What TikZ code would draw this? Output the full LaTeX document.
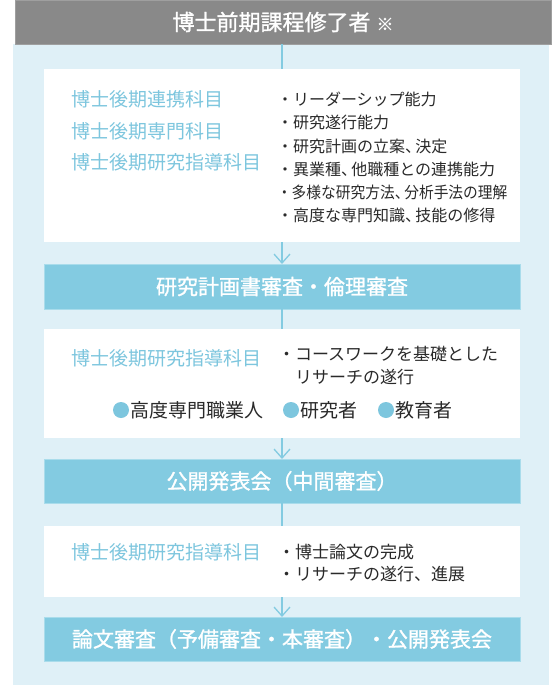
\documentclass[tikz,border=0pt]{standalone}
\usepackage{fontspec}
\setmainfont{Noto Sans CJK JP}
\newfontfamily\barfont[FakeBold=1.2]{Noto Sans CJK JP}
\usetikzlibrary{arrows.meta,positioning}
\definecolor{hdgray}{HTML}{898989}
\definecolor{bglight}{HTML}{DFF0F7}
\definecolor{barblue}{HTML}{83CBE1}
\definecolor{barline}{HTML}{A9DCEB}
\definecolor{lblblue}{HTML}{7DC6DE}
\definecolor{txtgray}{HTML}{2A2A2A}
\newcommand\tenn{、\kern-.35em}

\begin{document}
\begin{tikzpicture}[x=1pt,y=-1pt,>={Straight Barb[length=9pt,width=16pt]},
	every node/.style={inner sep=0pt,outer sep=0pt},
	header/.style={fill=hdgray,draw=gray!75,line width=.6pt,minimum width=536pt,minimum height=44pt,
		text=white,font=\barfont\fontsize{22}{22}\selectfont},
	panel/.style={fill=white,minimum width=476pt},
	stage/.style={fill=barblue,draw=barline,line width=.8pt,minimum width=476pt,minimum height=44pt,
		text=white,font=\barfont\fontsize{21}{21}\selectfont},
	subj/.style={anchor=west,text=lblblue,font=\fontsize{19}{19}\selectfont},
	item/.style={anchor=west,text=txtgray,font=\fontsize{16}{16}\selectfont},
	itemb/.style={anchor=west,text=txtgray,font=\fontsize{17}{17}\selectfont},
	role/.style={anchor=west,text=txtgray,font=\fontsize{19}{19}\selectfont},
	dot/.style={circle,fill=lblblue,minimum size=16pt},
	conn/.style={draw=barblue,line width=1.3pt}
	]

	\useasboundingbox (0,0) rectangle (557,696);
	\fill[bglight] (13,44) rectangle (549,685);

	\node[header] (hd) at (283,22) {博士前期課程修了者\hspace{6pt}{\fontsize{17}{17}\selectfont ※}};

	\node[panel,minimum height=173pt] (p1) at (282,155.5) {};
	\node[stage,minimum height=45pt] (s1) at (282,286.5) {研究計画書審査・倫理審査};
	\node[panel,minimum height=109pt] (p2) at (282,383.5) {};
	\node[stage] (s2) at (282,481) {公開発表会（中間審査）};
	\node[panel,minimum height=71pt] (p3) at (282,561.5) {};
	\node[stage] (s3) at (282,639) {論文審査（予備審査・本審査）・公開発表会};

	\draw[conn] (p1.north |- hd.south) -- (p1.north);
	\draw[conn,->] (p1.south) -- (s1.north);
	\draw[conn] (s1.south) -- (p2.north);
	\draw[conn,->] (p2.south) -- (s2.north);
	\draw[conn] (s2.south) -- (p3.north);
	\draw[conn,->] (p3.south) -- (s3.north);

	% first panel
	\node[subj] (a1) at (71,99) {博士後期連携科目};
	\node[subj] (a2) at (71,131) {博士後期専門科目};
	\node[subj] (a3) at (71,162) {博士後期研究指導科目};
	\node[item] (b1) at (277,99) {・リーダーシップ能力};
	\node[item] (b2) at (277,122) {・研究遂行能力};
	\node[item] (b3) at (277,146) {・研究計画の立案\tenn 決定};
	\node[item] (b4) at (277,169) {・異業種\tenn 他職種との連携能力};
	\node[item] (b5) at (277,192) {\scalebox{0.92}[1]{・多様な研究方法\tenn 分析手法の理解}};
	\node[item] (b6) at (277,215) {・高度な専門知識\tenn 技能の修得};

	% second panel
	\node[subj] (c1) at (71,358) {博士後期研究指導科目};
	\node[itemb] (d1) at (278,354) {・コースワークを基礎とした};
	\node[itemb] (d2) at (295,377) {リサーチの遂行};
	\node[dot] (e1) at (121,410) {};
	\node[role] (f1) at (130,410) {高度専門職業人};
	\node[dot] (e2) at (291,410) {};
	\node[role] (f2) at (300,410) {研究者};
	\node[dot] (e3) at (386,410) {};
	\node[role] (f3) at (395,410) {教育者};

	% third panel
	\node[subj] (g1) at (71,552) {博士後期研究指導科目};
	\node[itemb] (h1) at (278,552) {・博士論文の完成};
	\node[itemb] (h2) at (278,574) {・リサーチの遂行、進展};

\end{tikzpicture}
\end{document}
